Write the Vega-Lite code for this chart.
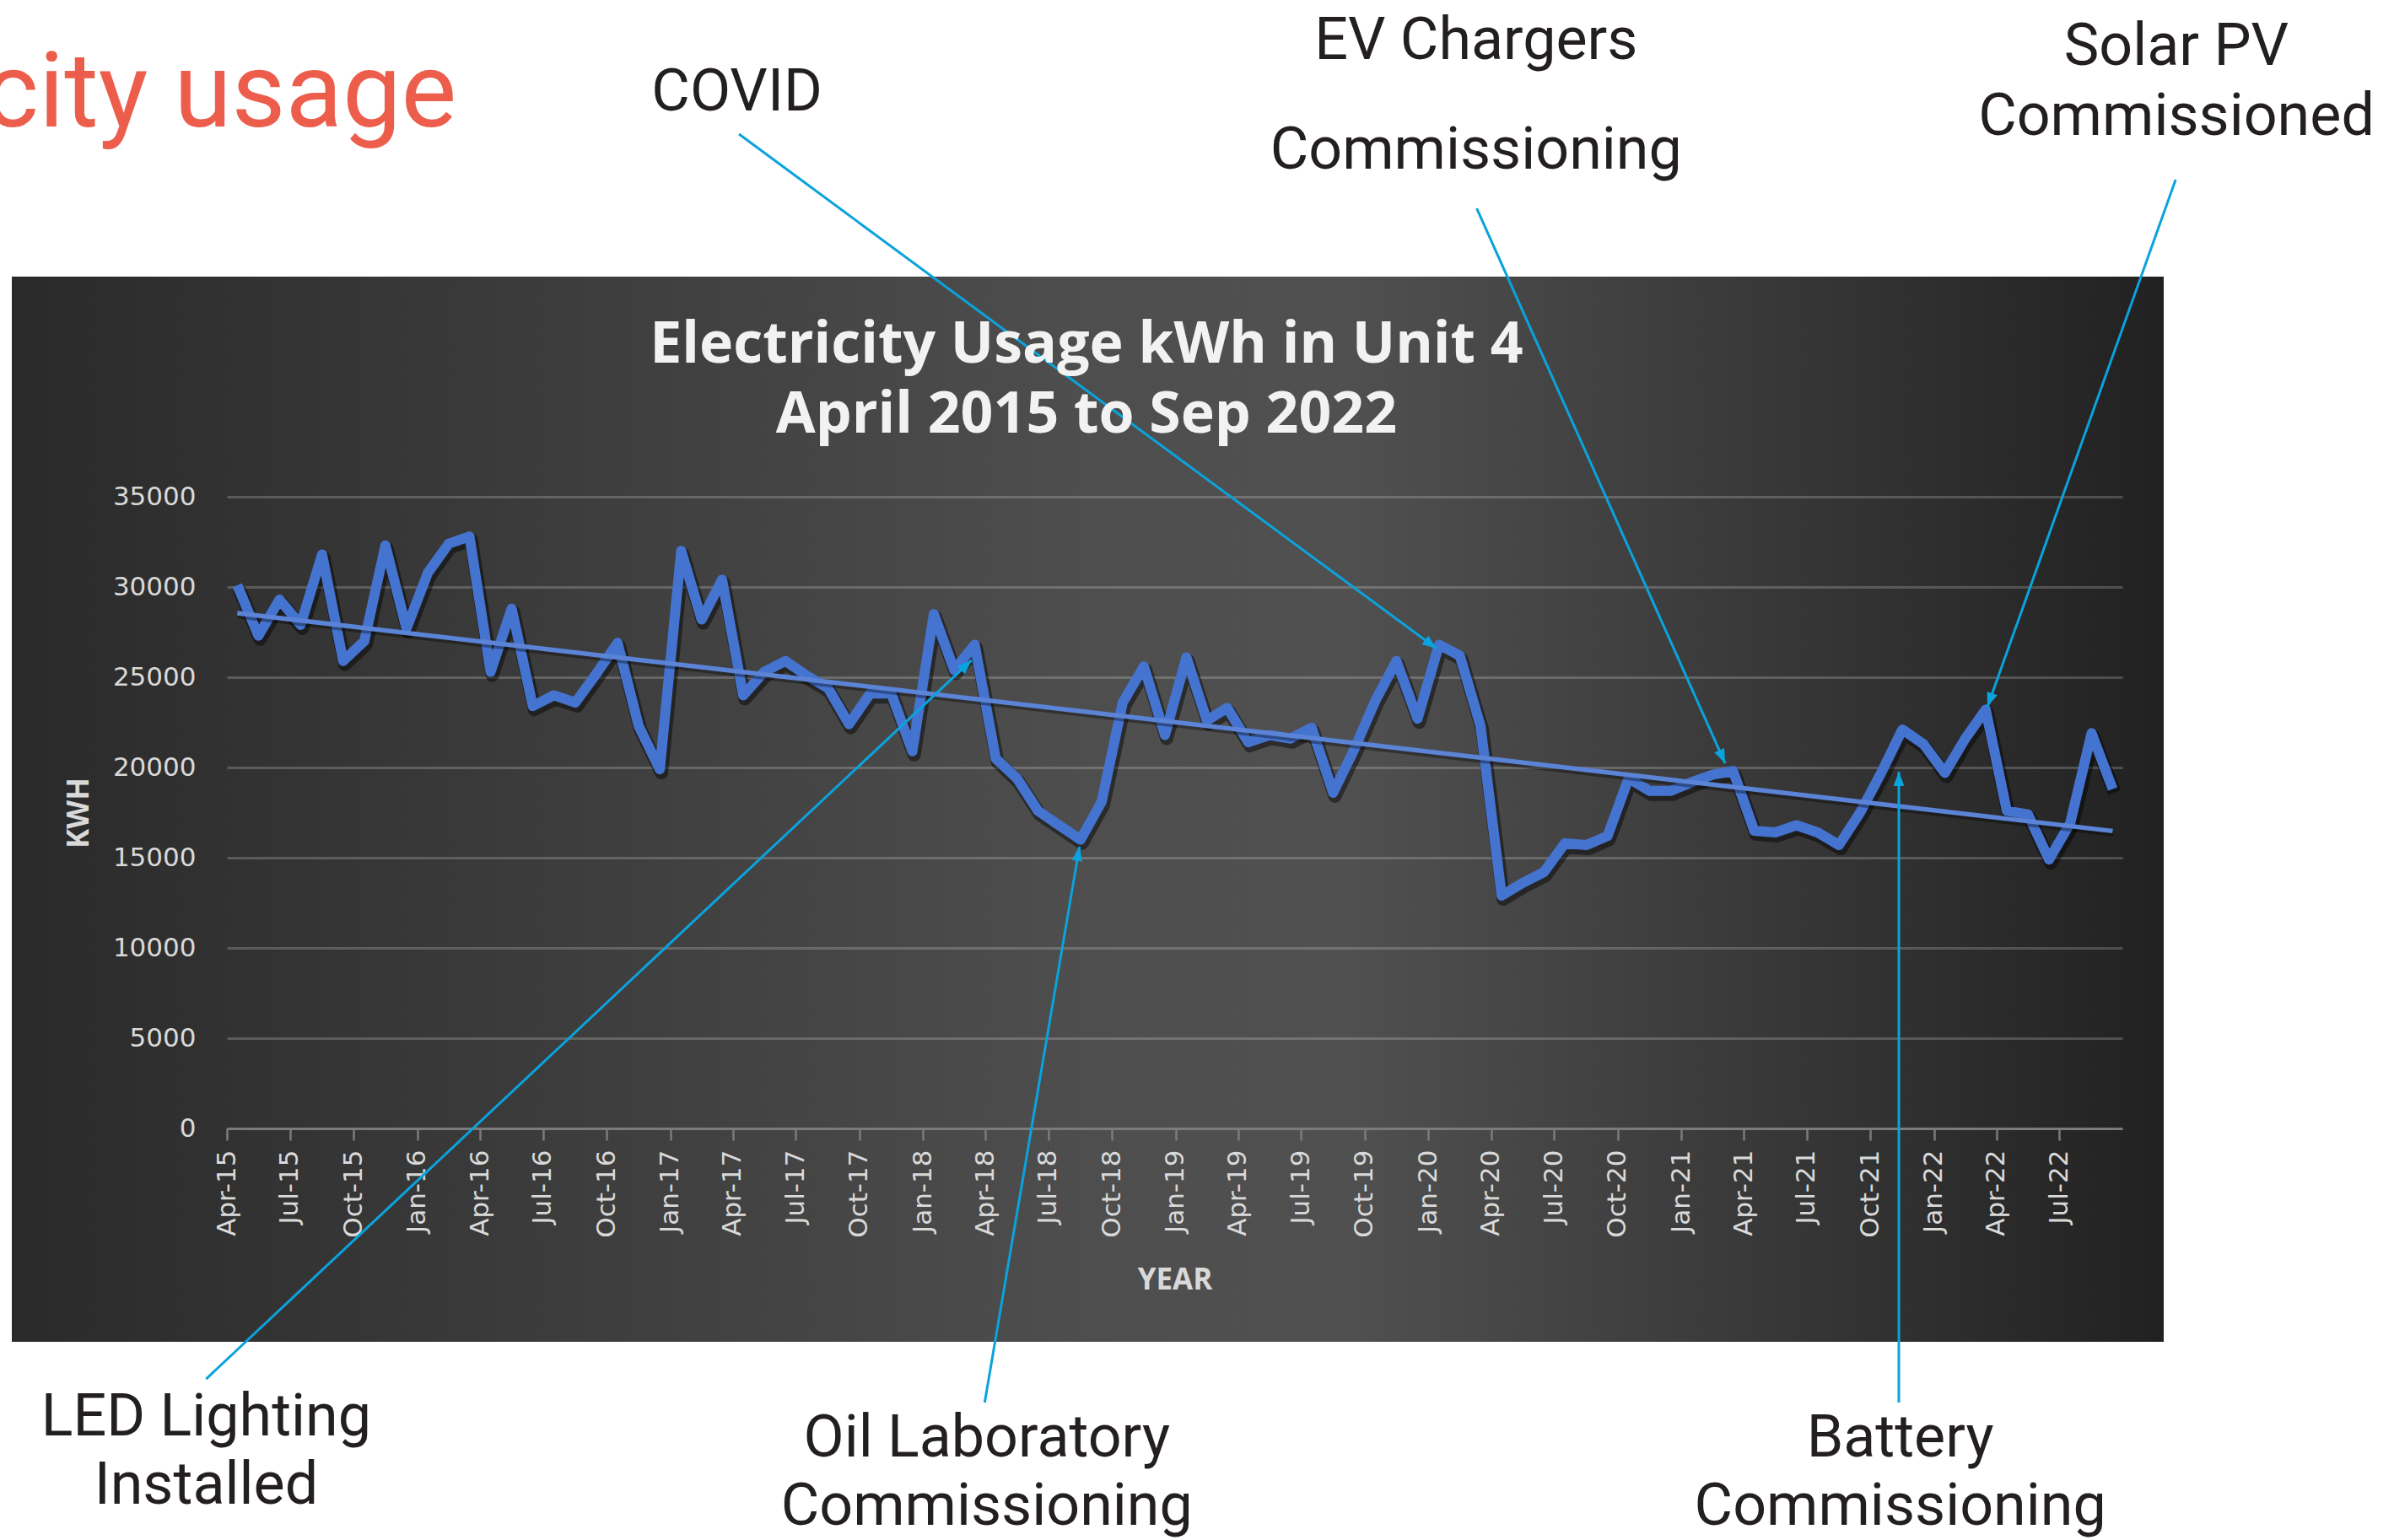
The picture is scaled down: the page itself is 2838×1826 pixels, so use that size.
{
  "$schema": "https://vega.github.io/schema/vega-lite/v6.json",
  "width": 2551,
  "height": 1263,
  "autosize": {"type": "none"},
  "padding": {"left": 14, "top": 328, "right": 273, "bottom": 235},
  "background": "#ffffff",
  "view": {
    "stroke": null,
    "fill": {
      "gradient": "linear", "x1": 0, "y1": 0, "x2": 1, "y2": 0,
      "stops": [
        {"offset": 0, "color": "#2a2a2a"},
        {"offset": 0.5, "color": "#4e4e4e"},
        {"offset": 0.62, "color": "#505050"},
        {"offset": 1, "color": "#212121"}
      ]
    }
  },
  "datasets": {
    "usage": [
      {"date": "2015-04-01", "kwh": 30100}, {"date": "2015-05-01", "kwh": 27300}, {"date": "2015-06-01", "kwh": 29300},
      {"date": "2015-07-01", "kwh": 27900}, {"date": "2015-08-01", "kwh": 31800}, {"date": "2015-09-01", "kwh": 25900},
      {"date": "2015-10-01", "kwh": 27000}, {"date": "2015-11-01", "kwh": 32300}, {"date": "2015-12-01", "kwh": 27700},
      {"date": "2016-01-01", "kwh": 30800}, {"date": "2016-02-01", "kwh": 32400}, {"date": "2016-03-01", "kwh": 32800},
      {"date": "2016-04-01", "kwh": 25300}, {"date": "2016-05-01", "kwh": 28800}, {"date": "2016-06-01", "kwh": 23400},
      {"date": "2016-07-01", "kwh": 24000}, {"date": "2016-08-01", "kwh": 23600}, {"date": "2016-09-01", "kwh": 25200},
      {"date": "2016-10-01", "kwh": 26900}, {"date": "2016-11-01", "kwh": 22300}, {"date": "2016-12-01", "kwh": 19900},
      {"date": "2017-01-01", "kwh": 32000}, {"date": "2017-02-01", "kwh": 28200}, {"date": "2017-03-01", "kwh": 30400},
      {"date": "2017-04-01", "kwh": 24000}, {"date": "2017-05-01", "kwh": 25300}, {"date": "2017-06-01", "kwh": 25900},
      {"date": "2017-07-01", "kwh": 25100}, {"date": "2017-08-01", "kwh": 24400}, {"date": "2017-09-01", "kwh": 22400},
      {"date": "2017-10-01", "kwh": 24100}, {"date": "2017-11-01", "kwh": 24100}, {"date": "2017-12-01", "kwh": 20900},
      {"date": "2018-01-01", "kwh": 28500}, {"date": "2018-02-01", "kwh": 25400}, {"date": "2018-03-01", "kwh": 26800},
      {"date": "2018-04-01", "kwh": 20500}, {"date": "2018-05-01", "kwh": 19400}, {"date": "2018-06-01", "kwh": 17600},
      {"date": "2018-07-01", "kwh": 16800}, {"date": "2018-08-01", "kwh": 16000}, {"date": "2018-09-01", "kwh": 18100},
      {"date": "2018-10-01", "kwh": 23600}, {"date": "2018-11-01", "kwh": 25600}, {"date": "2018-12-01", "kwh": 21800},
      {"date": "2019-01-01", "kwh": 26100}, {"date": "2019-02-01", "kwh": 22600}, {"date": "2019-03-01", "kwh": 23300},
      {"date": "2019-04-01", "kwh": 21400}, {"date": "2019-05-01", "kwh": 21800}, {"date": "2019-06-01", "kwh": 21600},
      {"date": "2019-07-01", "kwh": 22200}, {"date": "2019-08-01", "kwh": 18600}, {"date": "2019-09-01", "kwh": 21000},
      {"date": "2019-10-01", "kwh": 23700}, {"date": "2019-11-01", "kwh": 25900}, {"date": "2019-12-01", "kwh": 22700},
      {"date": "2020-01-01", "kwh": 26800}, {"date": "2020-02-01", "kwh": 26200}, {"date": "2020-03-01", "kwh": 22300},
      {"date": "2020-04-01", "kwh": 12900}, {"date": "2020-05-01", "kwh": 13600}, {"date": "2020-06-01", "kwh": 14200},
      {"date": "2020-07-01", "kwh": 15800}, {"date": "2020-08-01", "kwh": 15700}, {"date": "2020-09-01", "kwh": 16200},
      {"date": "2020-10-01", "kwh": 19400}, {"date": "2020-11-01", "kwh": 18700}, {"date": "2020-12-01", "kwh": 18700},
      {"date": "2021-01-01", "kwh": 19200}, {"date": "2021-02-01", "kwh": 19600}, {"date": "2021-03-01", "kwh": 19800},
      {"date": "2021-04-01", "kwh": 16500}, {"date": "2021-05-01", "kwh": 16400}, {"date": "2021-06-01", "kwh": 16800},
      {"date": "2021-07-01", "kwh": 16400}, {"date": "2021-08-01", "kwh": 15700}, {"date": "2021-09-01", "kwh": 17500},
      {"date": "2021-10-01", "kwh": 19700}, {"date": "2021-11-01", "kwh": 22100}, {"date": "2021-12-01", "kwh": 21300},
      {"date": "2022-01-01", "kwh": 19700}, {"date": "2022-02-01", "kwh": 21600}, {"date": "2022-03-01", "kwh": 23200},
      {"date": "2022-04-01", "kwh": 17600}, {"date": "2022-05-01", "kwh": 17400}, {"date": "2022-06-01", "kwh": 14900},
      {"date": "2022-07-01", "kwh": 16900}, {"date": "2022-08-01", "kwh": 21900}, {"date": "2022-09-01", "kwh": 18800}
    ],
    "arrows": [
      {"event": "COVID", "tailDate": "2017-04-10", "tailKwh": 55090, "tipDate": "2020-01-13", "tipKwh": 26590},
      {"event": "EV Chargers Commissioning", "tailDate": "2020-03-11", "tailKwh": 50980, "tipDate": "2021-03-05", "tipKwh": 20230},
      {"event": "Solar PV Commissioned", "tailDate": "2022-12-16", "tailKwh": 52570, "tipDate": "2022-03-19", "tipKwh": 23360},
      {"event": "LED Lighting Installed", "tailDate": "2015-03-02", "tailKwh": -13880, "tipDate": "2018-03-12", "tipKwh": 25940},
      {"event": "Oil Laboratory Commissioning", "tailDate": "2018-03-31", "tailKwh": -15190, "tipDate": "2018-08-15", "tipKwh": 15610},
      {"event": "Battery Commissioning", "tailDate": "2021-11-11", "tailKwh": -15190, "tipDate": "2021-11-11", "tipKwh": 19770}
    ],
    "texts": [
      {"role": "heading", "text": "Electricity usage", "date": "2016-02-27", "kwh": 55500},
      {"role": "title", "text": ["Electricity Usage kWh in Unit 4", "April 2015 to Sep 2022"], "date": "2018-08-25", "kwh": 42430},
      {"role": "note", "text": "COVID", "date": "2017-04-07", "kwh": 56400},
      {"role": "note", "text": "EV Chargers", "date": "2020-03-10", "kwh": 59250},
      {"role": "note", "text": "Commissioning", "date": "2020-03-10", "kwh": 53180},
      {"role": "note", "text": "Solar PV", "date": "2022-12-17", "kwh": 58930},
      {"role": "note", "text": "Commissioned", "date": "2022-12-17", "kwh": 55050},
      {"role": "note", "text": "LED Lighting", "date": "2015-03-02", "kwh": -17010},
      {"role": "note", "text": "Installed", "date": "2015-03-02", "kwh": -20790},
      {"role": "note", "text": "Oil Laboratory", "date": "2018-04-03", "kwh": -18200},
      {"role": "note", "text": "Commissioning", "date": "2018-04-03", "kwh": -21960},
      {"role": "note", "text": "Battery", "date": "2021-11-13", "kwh": -18200},
      {"role": "note", "text": "Commissioning", "date": "2021-11-13", "kwh": -21960}
    ]
  },
  "layer": [
    {
      "data": {"name": "usage", "format": {"parse": {"date": "date"}}},
      "mark": {"type": "line", "color": "#000000", "opacity": 0.45, "strokeWidth": 16, "strokeJoin": "round", "xOffset": 2, "yOffset": 4},
      "encoding": {
        "x": {
          "field": "date", "type": "temporal", "timeUnit": "utcyearmonth", "bandPosition": 0.5,
          "scale": {"type": "utc", "nice": false, "domain": [{"year": 2015, "month": 4, "date": 1, "utc": true}, {"year": 2022, "month": 9, "date": 30, "utc": true}], "range": [255, 2502]},
          "axis": {
            "title": "YEAR", "format": "%b-%y", "tickCount": {"interval": "month", "step": 3},
            "labelAngle": 270, "labelFont": "DejaVu Sans", "labelFontSize": 31, "labelColor": "#d9d9d9",
            "labelPadding": 11, "labelOverlap": false, "labelFlush": false,
            "tickSize": 14, "tickWidth": 2.5, "tickColor": "#7b7b7b",
            "domainColor": "#7b7b7b", "domainWidth": 3, "grid": false, "offset": -253,
            "titleFont": "Open Sans", "titleFontWeight": "bold", "titleFontSize": 35, "titleColor": "#d9d9d9", "titlePadding": 33
          }
        },
        "y": {
          "field": "kwh", "type": "quantitative",
          "scale": {"domain": [0, 35000], "range": [1010, 261], "nice": false, "zero": false},
          "axis": {
            "title": "KWH", "values": [0, 5000, 10000, 15000, 20000, 25000, 30000, 35000], "format": "d",
            "labelFont": "DejaVu Sans", "labelFontSize": 31, "labelColor": "#d9d9d9", "labelPadding": 37,
            "domain": false, "ticks": false, "grid": true, "gridColor": "#ffffff", "gridOpacity": 0.2, "gridWidth": 3,
            "offset": -255,
            "titleFont": "Open Sans", "titleFontWeight": "bold", "titleFontSize": 35, "titleColor": "#d9d9d9", "titlePadding": 22
          }
        }
      }
    },
    {
      "data": {"name": "usage", "format": {"parse": {"date": "date"}}},
      "mark": {"type": "line", "color": "#4574D0", "strokeWidth": 12, "strokeJoin": "round"},
      "encoding": {
        "x": {"field": "date", "type": "temporal", "timeUnit": "utcyearmonth", "bandPosition": 0.5,
          "scale": {"type": "utc", "nice": false, "domain": [{"year": 2015, "month": 4, "date": 1, "utc": true}, {"year": 2022, "month": 9, "date": 30, "utc": true}], "range": [255, 2502]}},
        "y": {"field": "kwh", "type": "quantitative", "scale": {"domain": [0, 35000], "range": [1010, 261], "nice": false, "zero": false}}
      }
    },
    {
      "data": {"name": "usage", "format": {"parse": {"date": "date"}}},
      "transform": [{"regression": "kwh", "on": "date"}],
      "mark": {"type": "line", "color": "#000000", "opacity": 0.35, "strokeWidth": 7, "xOffset": 1, "yOffset": 3},
      "encoding": {
        "x": {"field": "date", "type": "temporal", "timeUnit": "utcyearmonth", "bandPosition": 0.5,
          "scale": {"type": "utc", "nice": false, "domain": [{"year": 2015, "month": 4, "date": 1, "utc": true}, {"year": 2022, "month": 9, "date": 30, "utc": true}], "range": [255, 2502]}},
        "y": {"field": "kwh", "type": "quantitative", "scale": {"domain": [0, 35000], "range": [1010, 261], "nice": false, "zero": false}}
      }
    },
    {
      "data": {"name": "usage", "format": {"parse": {"date": "date"}}},
      "transform": [{"regression": "kwh", "on": "date"}],
      "mark": {"type": "line", "color": "#5b83d6", "strokeWidth": 5.5},
      "encoding": {
        "x": {"field": "date", "type": "temporal", "timeUnit": "utcyearmonth", "bandPosition": 0.5,
          "scale": {"type": "utc", "nice": false, "domain": [{"year": 2015, "month": 4, "date": 1, "utc": true}, {"year": 2022, "month": 9, "date": 30, "utc": true}], "range": [255, 2502]}},
        "y": {"field": "kwh", "type": "quantitative", "scale": {"domain": [0, 35000], "range": [1010, 261], "nice": false, "zero": false}}
      }
    },
    {
      "data": {"name": "arrows", "format": {"parse": {"tailDate": "date", "tipDate": "date"}}},
      "mark": {"type": "rule", "color": "#0aa3dd", "strokeWidth": 3},
      "encoding": {
        "x": {"field": "tailDate", "type": "temporal",
          "scale": {"type": "utc", "nice": false, "domain": [{"year": 2015, "month": 4, "date": 1, "utc": true}, {"year": 2022, "month": 9, "date": 30, "utc": true}], "range": [255, 2502]}},
        "x2": {"field": "tipDate"},
        "y": {"field": "tailKwh", "type": "quantitative", "scale": {"domain": [0, 35000], "range": [1010, 261], "nice": false, "zero": false}},
        "y2": {"field": "tipKwh"}
      }
    },
    {
      "data": {"name": "arrows", "format": {"parse": {"tailDate": "date", "tipDate": "date"}}},
      "mark": {
        "type": "point", "shape": "M0,0L-0.38,1L0.38,1Z", "filled": true, "color": "#0aa3dd", "opacity": 1, "size": 1156,
        "angle": {"expr": "atan2(scale('x', datum.tipDate) - scale('x', datum.tailDate), scale('y', datum.tailKwh) - scale('y', datum.tipKwh)) * 180 / PI"}
      },
      "encoding": {
        "x": {"field": "tipDate", "type": "temporal",
          "scale": {"type": "utc", "nice": false, "domain": [{"year": 2015, "month": 4, "date": 1, "utc": true}, {"year": 2022, "month": 9, "date": 30, "utc": true}], "range": [255, 2502]}},
        "y": {"field": "tipKwh", "type": "quantitative", "scale": {"domain": [0, 35000], "range": [1010, 261], "nice": false, "zero": false}}
      }
    },
    {
      "data": {"name": "texts", "format": {"parse": {"date": "date"}}},
      "transform": [{"filter": "datum.role === 'title'"}],
      "mark": {"type": "text", "font": "Open Sans", "fontWeight": "bold", "fontSize": 68, "lineHeight": 83, "color": "#f2f2f2", "align": "center", "baseline": "alphabetic"},
      "encoding": {
        "x": {"field": "date", "type": "temporal",
          "scale": {"type": "utc", "nice": false, "domain": [{"year": 2015, "month": 4, "date": 1, "utc": true}, {"year": 2022, "month": 9, "date": 30, "utc": true}], "range": [255, 2502]}},
        "y": {"field": "kwh", "type": "quantitative", "scale": {"domain": [0, 35000], "range": [1010, 261], "nice": false, "zero": false}},
        "text": {"field": "text"}
      }
    },
    {
      "data": {"name": "texts", "format": {"parse": {"date": "date"}}},
      "transform": [{"filter": "datum.role === 'heading'"}],
      "mark": {"type": "text", "font": "Roboto", "fontSize": 124, "color": "#EC5E4B", "align": "right", "baseline": "alphabetic"},
      "encoding": {
        "x": {"field": "date", "type": "temporal",
          "scale": {"type": "utc", "nice": false, "domain": [{"year": 2015, "month": 4, "date": 1, "utc": true}, {"year": 2022, "month": 9, "date": 30, "utc": true}], "range": [255, 2502]}},
        "y": {"field": "kwh", "type": "quantitative", "scale": {"domain": [0, 35000], "range": [1010, 261], "nice": false, "zero": false}},
        "text": {"field": "text"}
      }
    },
    {
      "data": {"name": "texts", "format": {"parse": {"date": "date"}}},
      "transform": [{"filter": "datum.role === 'note'"}],
      "mark": {"type": "text", "font": "Roboto", "fontSize": 70, "color": "#231F20", "align": "center", "baseline": "alphabetic"},
      "encoding": {
        "x": {"field": "date", "type": "temporal",
          "scale": {"type": "utc", "nice": false, "domain": [{"year": 2015, "month": 4, "date": 1, "utc": true}, {"year": 2022, "month": 9, "date": 30, "utc": true}], "range": [255, 2502]}},
        "y": {"field": "kwh", "type": "quantitative", "scale": {"domain": [0, 35000], "range": [1010, 261], "nice": false, "zero": false}},
        "text": {"field": "text"}
      }
    }
  ]
}
